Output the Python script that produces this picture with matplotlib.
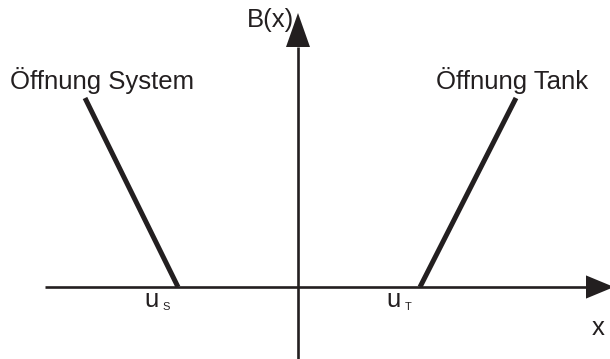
import matplotlib
matplotlib.use("Agg")
import matplotlib.pyplot as plt

plt.rcParams['font.family'] = ['Liberation Sans', 'DejaVu Sans']

INK = '#231f20'

# axis extents (data units, origin at the crossing of the axes)
x_axis = [-6.325, 7.2]
y_axis = [-1.85, 6.0]

# opening points on the x axis
u_s = -3.0
u_t = 3.05

# the two B(x) branches: from opening point up to the top end
branch_sys_x = [u_s, -5.325]
branch_sys_y = [0.0, 4.725]
branch_tank_x = [u_t, 5.45]
branch_tank_y = [0.0, 4.725]

fig = plt.figure(figsize=(6.10, 3.59), dpi=100)
ax = fig.add_axes([0, 0, 1, 1])
ax.set_xlim(-7.45, 7.8)
ax.set_ylim(-1.8, 7.175)
ax.axis('off')

# axes lines
ax.plot(x_axis, [0, 0], color=INK, lw=1.9, solid_capstyle='butt')
ax.plot([0, 0], y_axis, color=INK, lw=1.9, solid_capstyle='butt')

# arrow heads
ax.fill([x_axis[1], x_axis[1], x_axis[1] + 0.7], [-0.29, 0.29, 0], color=INK, lw=0)
ax.fill([-0.3, 0.3, 0], [y_axis[1], y_axis[1], y_axis[1] + 0.85], color=INK, lw=0)

# branches
ax.plot(branch_sys_x, branch_sys_y, color=INK, lw=3.6, solid_capstyle='butt')
ax.plot(branch_tank_x, branch_tank_y, color=INK, lw=3.6, solid_capstyle='butt')

fs = 18.5
ax.text(-4.89, 4.95, 'Öffnung System', fontsize=fs, ha='center', va='baseline', color=INK)
ax.text(5.35, 4.95, 'Öffnung Tank', fontsize=fs, ha='center', va='baseline', color=INK)
ax.text(-0.1, 6.5, 'B(x)', fontsize=fs, ha='right', va='baseline', color=INK)
ax.text(7.5, -1.2, 'x', fontsize=fs, ha='center', va='baseline', color=INK)

# opening labels with small subscripts
ax.text(u_s - 0.675, -0.5, 'u', fontsize=fs, ha='center', va='baseline', color=INK)
ax.text(u_s - 0.3, -0.58, 'S', fontsize=8, ha='center', va='baseline', color=INK)
ax.text(u_t - 0.675, -0.5, 'u', fontsize=fs, ha='center', va='baseline', color=INK)
ax.text(u_t - 0.3, -0.58, 'T', fontsize=8, ha='center', va='baseline', color=INK)

fig.savefig('out.png', dpi=100)
